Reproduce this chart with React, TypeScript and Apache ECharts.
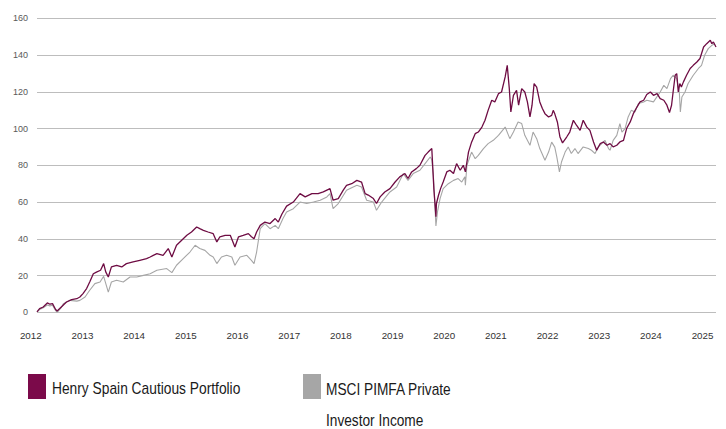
import React, { useEffect, useRef } from "react";
import * as echarts from "echarts";

const yearLabels = [2012, 2013, 2014, 2015, 2016, 2017, 2018, 2019, 2020, 2021, 2022, 2023, 2024, 2025];
const yTicks = [0, 20, 40, 60, 80, 100, 120, 140, 160];

const henrySpainName = "Henry Spain Cautious Portfolio";
const msciName = "MSCI PIMFA Private Investor Income";

// [decimal year, value]
const henrySpain: [number, number][] = [
  [2012.12, 0.2], [2012.17, 2], [2012.24, 2.9], [2012.32, 5.1], [2012.37, 4.4], [2012.42, 4.7],
  [2012.48, 1.5], [2012.51, 0.7], [2012.59, 2.9], [2012.69, 5.6], [2012.79, 6.9], [2012.89, 7.4],
  [2012.95, 8.3], [2013.01, 10.2], [2013.08, 12.9], [2013.14, 16.5], [2013.21, 21], [2013.27, 21.9],
  [2013.35, 22.9], [2013.41, 26.5], [2013.45, 22], [2013.5, 19.2], [2013.56, 24.7], [2013.66, 25.6],
  [2013.76, 24.7], [2013.85, 26.5], [2013.98, 27.4], [2014.11, 28.3], [2014.24, 29.2], [2014.31, 30.1],
  [2014.37, 31], [2014.44, 31.9], [2014.56, 31], [2014.66, 34.7], [2014.73, 30.1], [2014.82, 36.5],
  [2014.92, 39.2], [2015.02, 41.9], [2015.11, 43.7], [2015.21, 46.4], [2015.27, 45.5], [2015.34, 44.6],
  [2015.43, 43.7], [2015.53, 42.8], [2015.6, 38.3], [2015.66, 41.1], [2015.76, 41.9], [2015.86, 41.9],
  [2015.95, 35.5], [2016.02, 41.1], [2016.11, 41.9], [2016.21, 42.8], [2016.27, 41.1], [2016.32, 40],
  [2016.37, 43.7], [2016.44, 47.3], [2016.53, 49.1], [2016.63, 48.3], [2016.73, 51], [2016.79, 49.1],
  [2016.86, 53.5], [2016.95, 57.8], [2017.08, 60], [2017.21, 64.6], [2017.31, 62.8], [2017.44, 64.6],
  [2017.56, 64.6], [2017.66, 65.5], [2017.79, 67.3], [2017.85, 61], [2017.95, 61.9], [2018.05, 66.6],
  [2018.11, 69.1], [2018.21, 70], [2018.31, 71.8], [2018.4, 70.9], [2018.47, 64.6], [2018.53, 63.8],
  [2018.63, 61.9], [2018.69, 59.2], [2018.76, 62.8], [2018.85, 65.5], [2018.95, 67.3], [2019.05, 70.9],
  [2019.14, 73.7], [2019.24, 75.5], [2019.3, 72.8], [2019.37, 76.4], [2019.46, 78.2], [2019.53, 80],
  [2019.63, 85.4], [2019.69, 87.2], [2019.76, 89.1], [2019.78, 78.2], [2019.8, 67.3], [2019.84, 52],
  [2019.85, 59.2], [2019.89, 63.7], [2019.93, 67.3], [2019.98, 70.9], [2020.05, 76.4], [2020.11, 77.3],
  [2020.18, 75.5], [2020.24, 80.9], [2020.31, 77.3], [2020.37, 80], [2020.41, 76.4], [2020.47, 87.2],
  [2020.53, 92.6], [2020.6, 97.2], [2020.66, 98.1], [2020.73, 100.8], [2020.79, 104.5], [2020.85, 109.9],
  [2020.92, 115.4], [2020.98, 114.5], [2021.05, 119], [2021.11, 119.9], [2021.18, 128.1], [2021.22, 134.4],
  [2021.26, 121.7], [2021.29, 109], [2021.34, 118.1], [2021.4, 120.8], [2021.44, 112.7], [2021.5, 121.7],
  [2021.56, 119.9], [2021.61, 114.5], [2021.66, 106.3], [2021.7, 112.7], [2021.74, 124.5], [2021.79, 122.6],
  [2021.85, 114.5], [2021.9, 110.9], [2021.95, 108.1], [2022.02, 106.3], [2022.08, 107.2], [2022.11, 109.9],
  [2022.14, 108], [2022.19, 103.6], [2022.24, 95.4], [2022.29, 92.2], [2022.37, 95.4], [2022.43, 98.1],
  [2022.5, 104.5], [2022.56, 101.8], [2022.63, 99], [2022.69, 104.5], [2022.76, 100.8], [2022.82, 99],
  [2022.89, 92.7], [2022.95, 88.2], [2023.02, 91.8], [2023.08, 92.7], [2023.15, 90.9], [2023.21, 91.8],
  [2023.27, 90], [2023.34, 90.9], [2023.4, 92.7], [2023.47, 93.6], [2023.53, 100], [2023.6, 103.6],
  [2023.66, 108.1], [2023.73, 111.7], [2023.79, 114.5], [2023.86, 115.4], [2023.92, 118.5], [2023.99, 119.9],
  [2024.05, 118.1], [2024.12, 119], [2024.18, 116.3], [2024.25, 115.4], [2024.31, 112.7], [2024.36, 108.7],
  [2024.4, 112.7], [2024.43, 119.9], [2024.47, 129], [2024.5, 129.9], [2024.53, 119.9], [2024.56, 124.5],
  [2024.59, 122.6], [2024.63, 125.4], [2024.69, 129], [2024.76, 132.7], [2024.82, 134.4], [2024.89, 136.2],
  [2024.95, 138.1], [2025.02, 144.4], [2025.08, 146.2], [2025.15, 148], [2025.18, 146.2], [2025.21, 147.1],
  [2025.26, 144.4],
];

const msciPimfa: [number, number][] = [
  [2012.12, 0.2], [2012.17, 1.5], [2012.24, 2.5], [2012.32, 4], [2012.37, 3.5], [2012.42, 3.8],
  [2012.48, 1], [2012.51, 0], [2012.59, 2.5], [2012.63, 4.7], [2012.76, 6.5], [2012.89, 6.1],
  [2012.95, 6.5], [2013.05, 8.3], [2013.14, 12], [2013.24, 15.6], [2013.34, 16.5], [2013.41, 19.6],
  [2013.5, 11], [2013.56, 16.5], [2013.66, 17.4], [2013.79, 16.5], [2013.92, 19.2], [2014.05, 19.2],
  [2014.18, 20.1], [2014.31, 21], [2014.44, 22.9], [2014.63, 23.8], [2014.73, 21.6], [2014.82, 25.6],
  [2014.95, 29.2], [2015.08, 32.8], [2015.18, 36.5], [2015.27, 34.7], [2015.37, 33.7], [2015.47, 31],
  [2015.53, 30.1], [2015.6, 26.5], [2015.69, 30.1], [2015.79, 31], [2015.89, 30.1], [2015.95, 25.6],
  [2016.05, 30.1], [2016.18, 31], [2016.27, 28.3], [2016.32, 26.5], [2016.37, 32.8], [2016.44, 45.5],
  [2016.53, 48.3], [2016.63, 45.5], [2016.73, 47.3], [2016.79, 45.5], [2016.88, 51], [2016.95, 54.6],
  [2017.08, 56.4], [2017.21, 60], [2017.34, 59.2], [2017.47, 60], [2017.6, 61], [2017.73, 62.8],
  [2017.79, 64.6], [2017.85, 56.4], [2017.95, 59.2], [2018.11, 66.4], [2018.31, 69.1], [2018.4, 68.2],
  [2018.5, 61], [2018.63, 60], [2018.69, 55.5], [2018.79, 60], [2018.95, 65.5], [2019.08, 68.2],
  [2019.21, 75.5], [2019.3, 71.8], [2019.4, 75.5], [2019.53, 77.3], [2019.63, 80.9], [2019.73, 84.5],
  [2019.76, 83], [2019.79, 74.6], [2019.82, 58.2], [2019.84, 47], [2019.87, 54.6], [2019.92, 61.9],
  [2019.98, 67.3], [2020.08, 70], [2020.18, 71.8], [2020.27, 72.8], [2020.34, 70.9], [2020.4, 73.7],
  [2020.41, 69.1], [2020.44, 80], [2020.53, 87.2], [2020.6, 83.6], [2020.66, 85.4], [2020.76, 89.1],
  [2020.85, 91.8], [2020.95, 93.6], [2021.05, 96.3], [2021.18, 100.8], [2021.27, 94.5], [2021.34, 98.1],
  [2021.43, 103.6], [2021.5, 102.7], [2021.56, 96.3], [2021.66, 90.9], [2021.72, 98.1], [2021.79, 94.5],
  [2021.85, 89.1], [2021.95, 82.7], [2022.02, 87.2], [2022.08, 92.6], [2022.14, 89.9], [2022.18, 84.5],
  [2022.23, 76.4], [2022.27, 81.8], [2022.34, 87.2], [2022.4, 90], [2022.46, 86.4], [2022.53, 89.1],
  [2022.59, 86.4], [2022.69, 90], [2022.79, 89.1], [2022.85, 88.2], [2022.92, 86.4], [2022.98, 90],
  [2023.05, 91.8], [2023.11, 93.6], [2023.18, 89.1], [2023.21, 88.2], [2023.27, 93.6], [2023.34, 96.3],
  [2023.4, 102.7], [2023.44, 98.1], [2023.5, 100], [2023.56, 106.3], [2023.62, 109.9], [2023.69, 109],
  [2023.76, 113.6], [2023.86, 114.5], [2023.92, 115.4], [2024.05, 114.5], [2024.18, 119.9], [2024.25, 123.5],
  [2024.31, 121.7], [2024.38, 127.2], [2024.43, 129], [2024.5, 127.2], [2024.55, 119.9], [2024.57, 109],
  [2024.6, 117.2], [2024.66, 119.9], [2024.72, 124.5], [2024.82, 129], [2024.92, 132.7], [2024.98, 134.4],
  [2025.04, 139.9], [2025.11, 143.5], [2025.18, 145.3], [2025.24, 146.2],
];

const HS_COLOR = "#6e0c43";
const HS_LEGEND = "#7b0a4a";
const MSCI_COLOR = "#a6a6a6";

export default function App() {
  const ref = useRef<HTMLDivElement>(null);
  useEffect(() => {
    if (!ref.current) return;
    const chart = echarts.init(ref.current, null, { renderer: "svg" });
    const firstT = henrySpain[0][0];
    const lastT = henrySpain[henrySpain.length - 1][0];
    const legendFont = "'Liberation Sans', Arial, sans-serif";
    chart.setOption({
      animation: false,
      backgroundColor: "#ffffff",
      grid: [
        { left: 30.8, right: 10, top: 18.3, bottom: 116.7 },
        { left: 37, right: 10, top: 18.3, bottom: 116.7 },
      ],
      xAxis: [
        {
          type: "value",
          gridIndex: 0,
          min: yearLabels[0],
          max: lastT,
          axisLine: { show: false },
          axisTick: { show: false },
          splitLine: { show: false },
          axisLabel: {
            customValues: yearLabels,
            formatter: (v: number) => String(Math.round(v)),
            color: "#333333",
            fontSize: 9.8,
            fontFamily: "'Liberation Sans', Arial, sans-serif",
            margin: 18,
          },
        },
        {
          type: "value",
          gridIndex: 1,
          min: firstT,
          max: lastT,
          show: false,
          splitLine: { show: false },
        },
      ],
      yAxis: [
        { type: "value", gridIndex: 0, min: 0, max: 160, show: false, splitLine: { show: false } },
        {
          type: "value",
          gridIndex: 1,
          min: yTicks[0],
          max: yTicks[yTicks.length - 1],
          interval: 20,
          axisLine: { show: false },
          axisTick: { show: false },
          splitLine: { show: true, lineStyle: { color: "#bdbdbd", width: 1 } },
          axisLabel: {
            color: "#595959",
            fontSize: 9,
            fontFamily: "'Liberation Sans', Arial, sans-serif",
            margin: 9,
          },
        },
      ],
      series: [
        {
          name: msciName,
          type: "line",
          xAxisIndex: 1,
          yAxisIndex: 1,
          data: msciPimfa,
          showSymbol: false,
          symbol: "none",
          lineStyle: { color: MSCI_COLOR, width: 1.1 },
          itemStyle: { color: MSCI_COLOR },
        },
        {
          name: henrySpainName,
          type: "line",
          xAxisIndex: 1,
          yAxisIndex: 1,
          data: henrySpain,
          showSymbol: false,
          symbol: "none",
          lineStyle: { color: HS_COLOR, width: 1.3 },
          itemStyle: { color: HS_COLOR },
        },
      ],
      graphic: [
        { type: "rect", left: 28, top: 374, shape: { width: 18, height: 25 }, style: { fill: HS_LEGEND } },
        {
          type: "text",
          x: 52,
          y: 388,
          scaleX: 0.82,
          style: {
            text: henrySpainName,
            fill: "#1a1a1a",
            fontSize: 16.8,
            fontFamily: legendFont,
            verticalAlign: "middle",
          },
        },
        { type: "rect", left: 303, top: 374, shape: { width: 18, height: 25 }, style: { fill: MSCI_COLOR } },
        {
          type: "text",
          x: 326,
          y: 373.5,
          scaleX: 0.815,
          style: {
            text: "MSCI PIMFA Private\nInvestor Income",
            fill: "#1a1a1a",
            fontSize: 16.8,
            lineHeight: 31,
            fontFamily: legendFont,
            verticalAlign: "top",
          },
        },
      ],
    });
    return () => chart.dispose();
  }, []);
  return (
    <div
      ref={ref}
      style={{ position: "fixed", left: 0, top: 0, width: 726, height: 429, background: "#fff" }}
    />
  );
}
